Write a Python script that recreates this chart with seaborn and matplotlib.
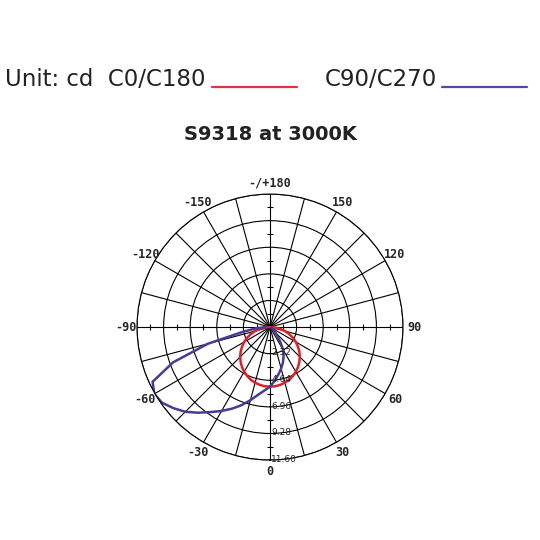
"""Polar candela diagram for S9318 at 3000K."""

import matplotlib

matplotlib.use("Agg")
import matplotlib.pyplot as plt
from matplotlib.lines import Line2D
import numpy as np
import pandas as pd
import seaborn as sns

# --- data ---
angles_deg = [-90, -85, -80, -75, -70, -65, -60, -55, -50, -45, -40, -35, -30,
              -25, -20, -15, -10, -5, 0, 5, 10, 15, 20, 25, 30, 35, 40, 45,
              50, 55, 60, 65, 70, 75, 80, 85, 90]
c0_c180 = [0.05, 0.45, 0.90, 1.35, 1.78, 2.20, 2.60, 2.98, 3.34, 3.68, 3.98,
           4.26, 4.50, 4.71, 4.89, 5.02, 5.12, 5.18, 5.20, 5.18, 5.12, 5.02,
           4.89, 4.71, 4.50, 4.26, 3.98, 3.68, 3.34, 2.98, 2.60, 2.20, 1.78,
           1.35, 0.90, 0.45, 0.05]
c90_c270 = [0.40, 1.20, 2.40, 5.60, 9.00, 11.30, 11.65, 11.50, 11.00, 10.45,
            9.75, 9.05, 8.45, 7.85, 7.25, 6.60, 6.00, 5.55, 5.20, 4.70, 4.20,
            3.75, 3.30, 2.80, 2.30, 1.55, 1.00, 0.60, 0.35, 0.25, 0.20, 0.15,
            0.12, 0.10, 0.10, 0.10, 0.10]

ring_values = [2.32, 4.64, 6.96, 9.28, 11.60]
ring_labels = ["2.32", "4.64", "6.96", "9.28", "11.60"]
label_angles = [0, 30, 60, 90, 120, 150, 180, 210, 240, 270, 300, 330]
label_texts = ["0", "30", "60", "90", "120", "150", "-/+180",
               "-150", "-120", "-90", "-60", "-30"]
series_names = ["C0/C180", "C90/C270"]
series_colors = ["#e31e26", "#4a3a96"]

df = pd.DataFrame({
    "theta": np.deg2rad(angles_deg * 2),
    "cd": c0_c180 + c90_c270,
    "plane": [series_names[0]] * len(angles_deg) + [series_names[1]] * len(angles_deg),
})

sns.set_style("white")
plt.rcParams["font.family"] = ["DejaVu Sans"]

fig = plt.figure(figsize=(5.4, 5.4), dpi=100)
ax = fig.add_axes([0.2537, 0.148, 0.4926, 0.4926], projection="polar")
ax.set_theta_zero_location("S")
ax.set_theta_direction(1)
rmax = ring_values[-1]
ax.set_ylim(0, rmax)

# grid
ax.set_thetagrids(np.arange(0, 360, 15), labels=[])
ax.set_rgrids(ring_values, labels=[])
ax.grid(True, color="black", linewidth=0.8)
ax.spines["polar"].set_color("black")
ax.spines["polar"].set_linewidth(0.8)
ax.tick_params(length=0)

# small ticks between rings on the main axes
step = ring_values[0]
mids = [v - step / 2 for v in ring_values]
for ang in (0, 180):
    ax.plot(np.full(len(mids), np.deg2rad(ang)), mids, ls="none", marker="_",
            ms=5, mew=0.8, color="black", clip_on=False)
for ang in (90, 270):
    ax.plot(np.full(len(mids), np.deg2rad(ang)), mids, ls="none", marker="|",
            ms=5, mew=0.8, color="black", clip_on=False)

# curves
for name, col in zip(series_names, series_colors):
    sub = df[df["plane"] == name]
    sns.lineplot(data=sub, x="theta", y="cd", ax=ax, sort=False, color=col,
                 linewidth=1.8, legend=False)
ax.set_xlabel("")
ax.set_ylabel("")

# angle labels
for ang, txt in zip(label_angles, label_texts):
    ax.text(np.deg2rad(ang), rmax * 1.085, txt, ha="center", va="center",
            fontsize=8.5, fontfamily="DejaVu Sans Mono", fontweight="bold",
            clip_on=False)

# ring value labels along the 0 direction
for v, txt in zip(ring_values, ring_labels):
    ax.annotate(txt, xy=(0, v), xytext=(1, 0.5), textcoords="offset points",
                ha="left", va="center", fontsize=6.5, color="#222222",
                fontfamily="DejaVu Sans Condensed")

# header legend
fig.text(0.009, 0.853, "Unit: cd  C0/C180", fontsize=16.5, va="center",
         ha="left", color="#222222")
fig.text(0.601, 0.853, "C90/C270", fontsize=16.5, va="center", ha="left",
         color="#222222")
fig.add_artist(Line2D([0.393, 0.550], [0.839, 0.839], color="#e0353c", lw=1.6))
fig.add_artist(Line2D([0.818, 0.975], [0.839, 0.839], color="#5a4a9e", lw=1.6))

fig.text(0.5, 0.75, "S9318 at 3000K", fontsize=14, fontweight="bold",
         ha="center", va="center", color="#222222")

fig.savefig("out.png", dpi=100)
plt.close(fig)
